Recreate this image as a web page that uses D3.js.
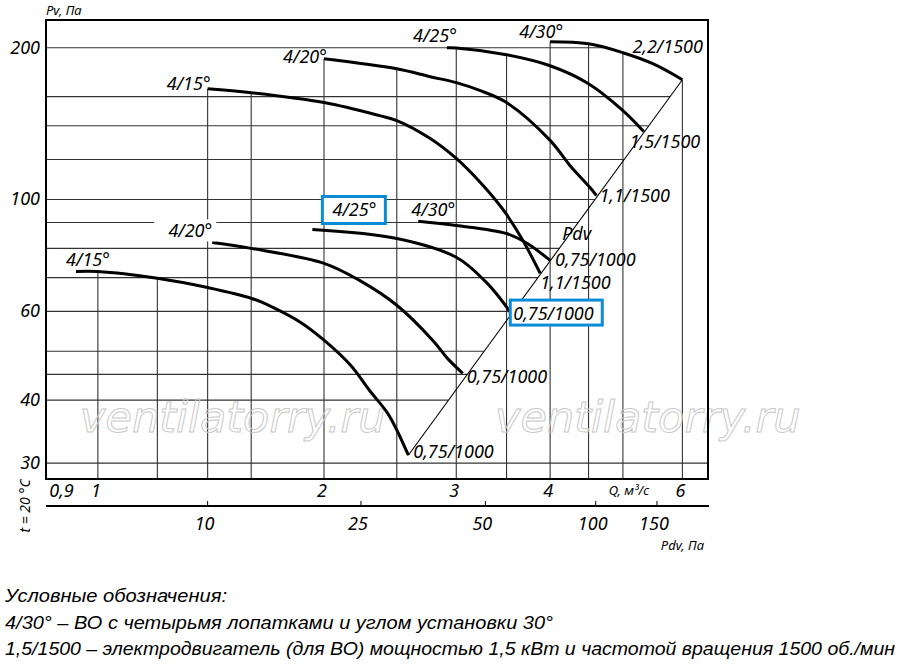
<!DOCTYPE html>
<html><head><meta charset="utf-8">
<script src="https://cdn.jsdelivr.net/npm/d3@7/dist/d3.min.js"></script>
<style>
html,body{margin:0;padding:0;background:#fff;}
svg{display:block;}
text{font-family:"Noto Sans",sans-serif;font-style:italic;fill:#000;}
</style></head><body>
<svg id="chart" width="900" height="670"></svg>
<script>
// ---------- DATA ----------
const qDomain = [0.853, 6.49];          // Q, m3/s (log axis)
const pvDomain = [27.9, 227];           // Pv, Pa (log axis)
const qGrid = [1, 1.2, 1.4, 1.6, 2, 2.5, 3, 3.5, 4, 4.5, 5, 6];
const pvGrid = [30, 40, 45, 50, 60, 70, 80, 90, 100, 120, 140, 160, 200];
const qTicks = [0.9, 1, 2, 3, 4, 6];
const qTickLabels = ["0,9", "1", "2", "3", "4", "6"];
const pvTicks = [30, 40, 60, 100, 200];
const pvTickLabels = ["30", "40", "60", "100", "200"];
const pdvTicks = [10, 25, 50, 100, 150];
const pdvTickLabels = ["10", "25", "50", "100", "150"];
const pdvTickQ = [1.40, 2.24, 3.28, 4.60, 5.55];   // Q position of each Pdv tick

// 1500 rpm curves [Q, Pv]
const c1500_15 = [[1.40,165.9],[1.6,162.9],[2.0,155.7],[2.37,146.7],[2.5,143.4],[2.77,132.1],[3.0,120.6],[3.23,108.1],[3.38,100],[3.5,93.4],[3.68,82.9],[3.88,71.4]];
const c1500_20 = [[2.0,190.2],[2.5,181.7],[2.77,175.2],[3.0,170.5],[3.23,164.4],[3.5,155.7],[4.0,131.0],[4.25,116.8],[4.52,105.6],[4.61,101.8]];
const c1500_25 = [[2.915,200],[3.0,199.8],[3.5,193.7],[4.0,184.2],[4.5,169.7],[5.0,150.1],[5.33,136.4]];
const c1500_30 = [[4.0,205.5],[4.5,203.6],[5.0,195.5],[5.48,185.9],[6.0,172.8]];
// 1000 rpm curves [Q, Pv]
const c1000_15 = [[0.935,72.0],[1.0,72.0],[1.2,69.8],[1.4,66.9],[1.6,63.7],[1.71,61.1],[1.86,57.1],[2.0,52.6],[2.17,46.9],[2.30,41.8],[2.43,37.7],[2.5,34.9],[2.59,31.1]];
const c1000_20 = [[1.42,82.2],[1.6,80.0],[2.0,74.7],[2.23,69.1],[2.5,61.7],[2.79,52.6],[2.92,48.4],[3.06,45.2]];
const c1000_25 = [[1.93,87.2],[2.5,83.7],[3.0,76.8],[3.28,68.8],[3.43,63.7],[3.54,59.8]];
const c1000_30 = [[2.67,90.5],[3.0,88.8],[3.5,85.6],[3.73,81.8],[4.0,75.7]];
// dynamic pressure line Pdv
const pdvLine = [[2.59,31.1],[6.0,172.8]];

const startLabels = ["4/15°","4/20°","4/25°","4/30°","4/15°","4/20°","4/25°","4/30°"];
const endLabels = ["1,1/1500","1,1/1500","1,5/1500","2,2/1500","0,75/1000","0,75/1000","0,75/1000","0,75/1000"];
const curves = [c1500_15, c1500_20, c1500_25, c1500_30, c1000_15, c1000_20, c1000_25, c1000_30];

const legendLines = [
  "Условные обозначения:",
  "4/30° – ВО с четырьмя лопатками и углом установки 30°",
  "1,5/1500 – электродвигатель (для ВО) мощностью 1,5 кВт и частотой вращения 1500 об./мин"
];

// ---------- LAYOUT (pixel offsets / styles) ----------
const startOff = [[3,1],[3,4],[10,-6],[13,-4],[34,-5],[0,-5],[64,-13],[37,-5]];
const endOff = [[0,16],[3,6],[-14,16],[-50,-27],[5,3],[4,10],[3,8],[5,6]];
const boxedStart = [false,false,false,false,false,false,true,false];
const boxedEnd = [false,false,false,false,false,false,true,false];
const whiteBgStart = [false,false,false,false,false,true,false,false];

const svg = d3.select("#chart");
const L = 46, R = 708, T = 20, B = 479;
const x = d3.scaleLog().domain(qDomain).range([L, R]);
const y = d3.scaleLog().domain(pvDomain).range([B, T]);

function interp(c, q) {
  if (q < c[0][0] - 1e-6 || q > c[c.length-1][0] + 1e-6) return null;
  for (let i = 0; i < c.length - 1; i++) {
    const a = c[i], b = c[i+1];
    if (q >= a[0] - 1e-6 && q <= b[0] + 1e-6) {
      const t = (Math.log(q) - Math.log(a[0])) / (Math.log(b[0]) - Math.log(a[0]));
      return Math.exp(Math.log(a[1]) + t * (Math.log(b[1]) - Math.log(a[1])));
    }
  }
  return c[0][1];
}
function invert(c, v) {
  for (let i = 0; i < c.length - 1; i++) {
    const a = c[i], b = c[i+1];
    const lo = Math.min(a[1], b[1]), hi = Math.max(a[1], b[1]);
    if (v >= lo && v <= hi) {
      const t = (Math.log(v) - Math.log(a[1])) / (Math.log(b[1]) - Math.log(a[1]));
      return Math.exp(Math.log(a[0]) + t * (Math.log(b[0]) - Math.log(a[0])));
    }
  }
  return null;
}

// ---------- GRID ----------
const grid = svg.append("g").attr("stroke", "#333").attr("stroke-width", 1.1);
qGrid.forEach(q => {
  let top = null;
  curves.forEach(c => { const v = interp(c, q); if (v !== null && (top === null || v > top)) top = v; });
  grid.append("line").attr("x1", x(q)).attr("x2", x(q)).attr("y1", top === null ? T : y(top)).attr("y2", B);
});
pvGrid.forEach(v => {
  let qEnd = qDomain[1];
  const pMin = pdvLine[0][1], pMax = pdvLine[1][1];
  if (v >= pMin && v <= pMax) qEnd = invert(pdvLine, v);
  else if (v > pMax) { const r = invert(c1500_30, v); if (r) qEnd = r; }
  grid.append("line").attr("x1", L).attr("x2", x(qEnd)).attr("y1", y(v)).attr("y2", y(v));
});

// ---------- WATERMARK ----------
[[80, 432], [495, 432]].forEach(p => {
  svg.append("text").attr("x", p[0]).attr("y", p[1])
    .style("font-family", "'DejaVu Sans',sans-serif").style("font-style", "oblique")
    .style("font-size", "43px").style("fill", "none")
    .attr("stroke", "#c9c9c9").attr("stroke-width", 1)
    .text("ventilatorry.ru");
});

// ---------- CURVES ----------
const line = d3.line().x(d => x(d[0])).y(d => y(d[1])).curve(d3.curveCatmullRom.alpha(0.5));
svg.append("path").datum(pdvLine).attr("d", d3.line().x(d => x(d[0])).y(d => y(d[1])))
  .attr("fill", "none").attr("stroke", "#000").attr("stroke-width", 1.1);
curves.forEach(c => {
  svg.append("path").datum(c).attr("d", line).attr("fill", "none")
    .attr("stroke", "#000").attr("stroke-width", 3).attr("stroke-linecap", "butt");
});

// ---------- CURVE LABELS ----------
const lab = svg.append("g").style("font-size", "18px");
curves.forEach((c, i) => {
  const s = c[0], e = c[c.length-1];
  const sx = x(s[0]) + startOff[i][0], sy = y(s[1]) + startOff[i][1];
  if (whiteBgStart[i]) {
    lab.append("rect").attr("x", sx - 58).attr("y", sy - 18).attr("width", 62).attr("height", 22).attr("fill", "#fff");
  }
  if (boxedStart[i]) {
    lab.append("rect").attr("x", sx - 54).attr("y", sy - 20).attr("width", 63).attr("height", 27)
      .attr("fill", "#fff").attr("stroke", "#0a8bd6").attr("stroke-width", 3);
  }
  lab.append("text").attr("x", sx).attr("y", sy).attr("text-anchor", "end").text(startLabels[i]);
  const ex = x(e[0]) + endOff[i][0], ey = y(e[1]) + endOff[i][1];
  if (boxedEnd[i]) {
    lab.append("rect").attr("x", ex - 3).attr("y", ey - 20).attr("width", 92).attr("height", 25)
      .attr("fill", "#fff").attr("stroke", "#0a8bd6").attr("stroke-width", 3);
  }
  lab.append("text").attr("x", ex).attr("y", ey).attr("text-anchor", "start").text(endLabels[i]);
});
lab.append("text").attr("x", x(4.15)).attr("y", y(77)).attr("dy", -17).attr("text-anchor", "start").text("Pdv");

// ---------- FRAME ----------
svg.append("rect").attr("x", L).attr("y", T).attr("width", R - L).attr("height", B - T)
  .attr("fill", "none").attr("stroke", "#000").attr("stroke-width", 2);

// ---------- AXES LABELS ----------
const ax = svg.append("g").style("font-size", "18px");
pvTicks.forEach((v, i) => {
  ax.append("text").attr("x", 40).attr("y", y(v) + 6).attr("text-anchor", "end").text(pvTickLabels[i]);
});
svg.append("text").attr("x", 46).attr("y", 15).style("font-size", "13px").text("Pv, Па");
qTicks.forEach((q, i) => {
  ax.append("text").attr("x", x(q) - 2).attr("y", 497).attr("text-anchor", "middle").text(qTickLabels[i]);
});
svg.append("text").attr("x", 629).attr("y", 495).attr("text-anchor", "middle").style("font-size", "13px").text("Q, м³/с");

// Pdv axis
const pdvY = 506;
svg.append("line").attr("x1", L).attr("x2", R + 1).attr("y1", pdvY).attr("y2", pdvY)
  .attr("stroke", "#000").attr("stroke-width", 1.8);
pdvTicks.forEach((p, i) => {
  const px = x(pdvTickQ[i]);
  svg.append("line").attr("x1", px).attr("x2", px).attr("y1", pdvY - 5).attr("y2", pdvY).attr("stroke", "#000").attr("stroke-width", 1);
  ax.append("text").attr("x", px - 3).attr("y", 530).attr("text-anchor", "middle").text(pdvTickLabels[i]);
});
svg.append("text").attr("x", 704).attr("y", 550).attr("text-anchor", "end").style("font-size", "13px").text("Pdv, Па");
svg.append("text").attr("transform", "translate(30,506) rotate(-90)").attr("text-anchor", "middle")
  .style("font-size", "14px").text("t = 20 °C");

// ---------- LEGEND ----------
const legW = [222, 548, 890];
legendLines.forEach((t, i) => {
  svg.append("text").attr("x", 5).attr("y", 602 + i * 26.5)
    .style("font-family", "'Liberation Sans Narrow','Liberation Sans',sans-serif")
    .style("font-size", "19px")
    .attr("textLength", legW[i]).attr("lengthAdjust", "spacingAndGlyphs")
    .text(t);
});
</script>
</body></html>
